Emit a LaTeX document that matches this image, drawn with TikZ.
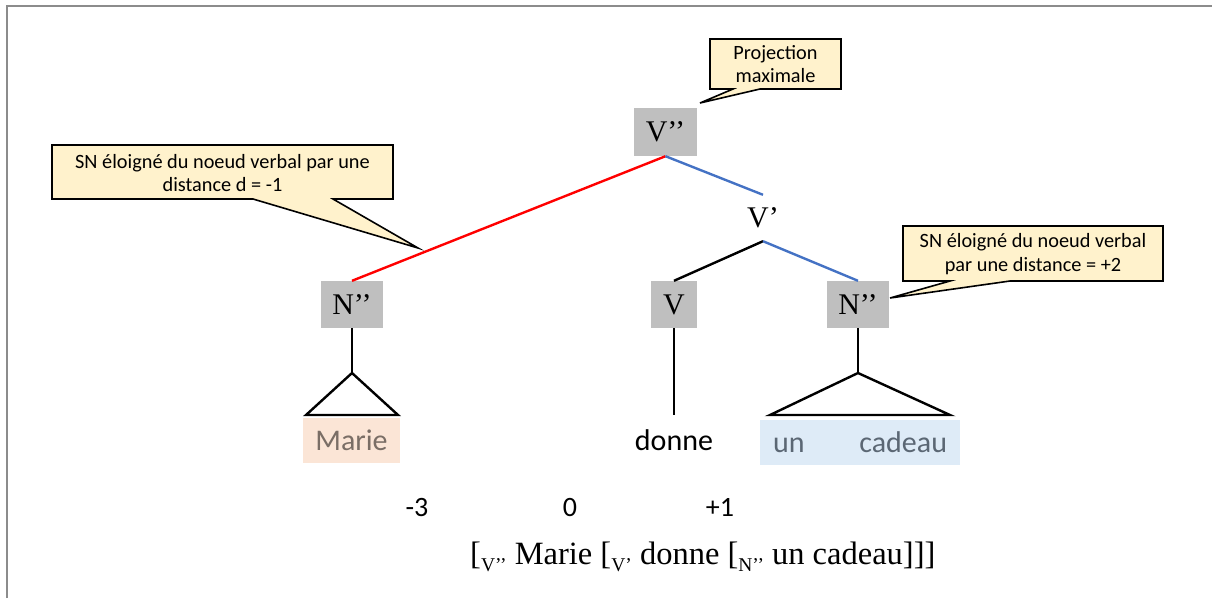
\documentclass[tikz,border=0pt]{standalone}
\usepackage{fontspec}
\setmainfont{Liberation Serif}
\newfontfamily\calfont{Carlito}
\definecolor{boxgray}{HTML}{BFBFBF}
\definecolor{callfill}{HTML}{FFF2CC}
\definecolor{redline}{HTML}{FF0000}
\definecolor{blueline}{HTML}{4472C4}
\definecolor{mariefill}{HTML}{FBE5D6}
\definecolor{mariecol}{HTML}{7A6E66}
\definecolor{cadfill}{HTML}{DEEBF7}
\definecolor{cadcol}{HTML}{5B6774}
\definecolor{framegray}{HTML}{8C8C8C}
\begin{document}
\begin{tikzpicture}[x=1pt,y=-1pt,
  cat/.style={fill=boxgray,inner sep=0pt,minimum width=62pt,minimum height=47pt,
    font=\fontsize{30}{30}\selectfont},
  catplain/.style={inner sep=0pt,minimum width=40pt,minimum height=46pt,
    font=\fontsize{30}{30}\selectfont},
  branch/.style={line width=2.4pt},
  callshape/.style={fill=callfill,draw=black,line width=1.6pt,line join=miter},
  calltext/.style={font=\calfont\fontsize{20.3}{23.5}\selectfont,align=center,inner sep=0pt},
  word/.style={font=\calfont\fontsize{30}{30}\selectfont,inner sep=0pt},
  num/.style={font=\calfont\fontsize{28}{28}\selectfont,inner sep=0pt}
]
\useasboundingbox (0,0) rectangle (1212,598);
\draw[framegray,line width=1.2pt] (7,598) -- (7,6) -- (1212,6);

% callouts
\draw[callshape] (710,39) -- (841,39) -- (841,89) -- (760,89) -- (700,103) -- (733,89) -- (710,89) -- cycle;
\node[calltext] (cmax) at (775.5,64) {Projection\\maximale};

\draw[callshape] (52,145) -- (393,145) -- (393,199) -- (333,199) -- (418,248) -- (253,199) -- (52,199) -- cycle;
\node[calltext] (cleft) at (222.5,173) {SN éloigné du noeud verbal par une\\distance d = -1};

\draw[callshape] (903,226) -- (1163,226) -- (1163,281) -- (1010,281) -- (890,298) -- (950,281) -- (903,281) -- cycle;
\node[calltext] (cright) at (1033,254) {SN éloigné du noeud verbal\\par une distance = +2};

% tree nodes
\node[cat,minimum width=63pt,minimum height=48pt] (vpp) at (665.5,132) {V’’};
\node[catplain] (vp) at (763,218) {V’};
\node[cat] (nl) at (352,304.5) {N’’};
\node[cat,minimum width=46pt] (v) at (674,304.5) {V};
\node[cat] (nr) at (858,304.5) {N’’};

% branches
\draw[branch,redline] (vpp.south) -- (nl.north);
\draw[branch,blueline] (vpp.south) -- (vp.north);
\draw[branch] (vp.south) -- (v.north);
\draw[branch,blueline] (vp.south) -- (nr.north);

% triangles and terminals
\coordinate (tl) at (352,373);
\coordinate (tlA) at (306,415);
\coordinate (tlB) at (398,415);
\draw[branch] (nl.south) -- (tl);
\draw[branch,line join=miter] (tl) -- (tlA) -- (tlB) -- cycle;

\coordinate (vend) at (674,415);
\draw[branch] (v.south) -- (vend);

\coordinate (tr) at (858,373);
\coordinate (trA) at (770,415);
\coordinate (trB) at (950,415);
\draw[branch] (nr.south) -- (tr);
\draw[branch,line join=miter] (tr) -- (trA) -- (trB) -- cycle;

\node[word,fill=mariefill,text=mariecol,minimum width=97pt,minimum height=45pt] (marie) at (351.5,440.5) {Marie};
\node[word] (donne) at (674,440) {donne};
\node[word,fill=cadfill,text=cadcol,minimum width=200pt,minimum height=45pt] (cadeau) at (860,442.5) {\makebox[174pt]{un\hfill cadeau}};

% distances
\node[num] (dm3) at (417,507) {-3};
\node[num] (d0) at (570,507) {0};
\node[num] (dp1) at (720,507) {+1};

% bracketing
\node[anchor=base west,inner sep=0pt,font=\fontsize{32.5}{32.5}\selectfont] (brk) at (470,564)
  {[\raisebox{-7pt}{\fontsize{19.5}{19.5}\selectfont V’’} Marie [\raisebox{-7pt}{\fontsize{19.5}{19.5}\selectfont V’} donne [\raisebox{-7pt}{\fontsize{19.5}{19.5}\selectfont N’’} un cadeau]]]};
\end{tikzpicture}
\end{document}
